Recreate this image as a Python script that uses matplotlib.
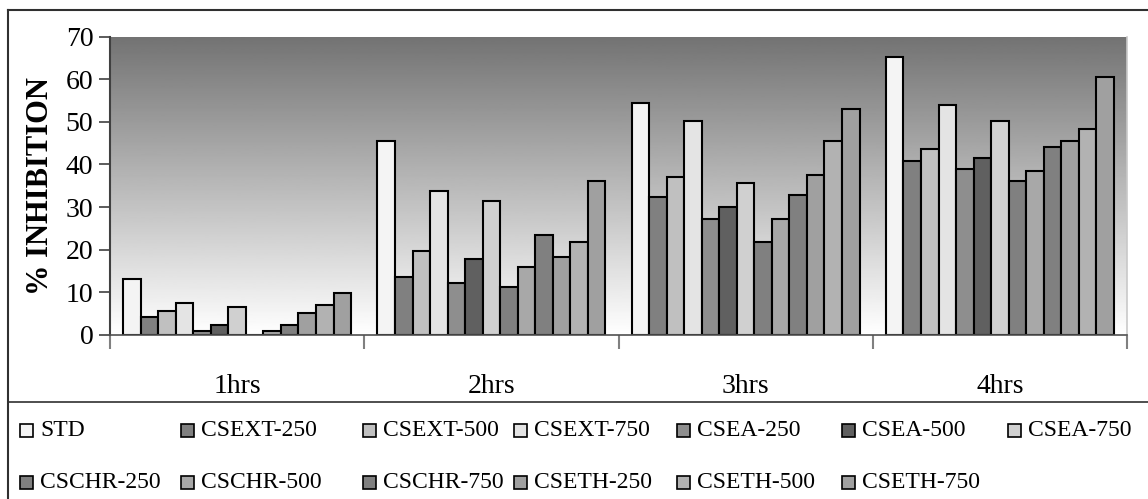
import numpy as np
import matplotlib
matplotlib.use("Agg")
import matplotlib.pyplot as plt
from matplotlib.patches import Rectangle
from matplotlib.lines import Line2D

plt.rcParams['font.family'] = ['Liberation Serif', 'DejaVu Serif']

# data
groups = ['1hrs', '2hrs', '3hrs', '4hrs']
series = ['STD', 'CSEXT-250', 'CSEXT-500', 'CSEXT-750', 'CSEA-250', 'CSEA-500', 'CSEA-750',
          'CSCHR-250', 'CSCHR-500', 'CSCHR-750', 'CSETH-250', 'CSETH-500', 'CSETH-750']
std = [13.1, 45.5, 54.5, 65.1]
csext_250 = [4.3, 13.7, 32.4, 40.9]
csext_500 = [5.6, 19.8, 37.1, 43.6]
csext_750 = [7.5, 33.7, 50.2, 53.9]
csea_250 = [1.0, 12.3, 27.3, 39.0]
csea_500 = [2.4, 17.9, 30.1, 41.4]
csea_750 = [6.6, 31.4, 35.6, 50.2]
cschr_250 = [0.0, 11.3, 21.7, 36.2]
cschr_500 = [1.0, 16.0, 27.3, 38.4]
cschr_750 = [2.4, 23.5, 32.9, 44.1]
cseth_250 = [5.2, 18.4, 37.6, 45.5]
cseth_500 = [7.1, 21.7, 45.5, 48.3]
cseth_750 = [9.8, 36.1, 52.9, 60.4]
values = [std, csext_250, csext_500, csext_750, csea_250, csea_500, csea_750,
          cschr_250, cschr_500, cschr_750, cseth_250, cseth_500, cseth_750]
colors = ['#f4f4f4', '#808080', '#c0c0c0', '#e4e4e4', '#8e8e8e', '#606060', '#d0d0d0',
          '#808080', '#a8a8a8', '#808080', '#a0a0a0', '#b2b2b2', '#a0a0a0']
yticks = [0, 10, 20, 30, 40, 50, 60, 70]

W, H = 1148, 499
fig = plt.figure(figsize=(W / 100, H / 100), dpi=100)
ax = fig.add_axes([110 / W, 1 - 335 / H, (1127 - 110) / W, (335 - 36.5) / H])

# gradient background
grad = np.linspace(0.45, 1.0, 256).reshape(-1, 1)
ax.imshow(grad, cmap='gray', vmin=0, vmax=1, aspect='auto',
          extent=[-0.5, 3.5, 0, 70], origin='upper', zorder=0)

n = len(series)
bw = 0.896 / n
x = np.arange(len(groups))
for i, (vals, c) in enumerate(zip(values, colors)):
    ax.bar(x - 0.448 + bw * (i + 0.5), vals, bw, color=c, edgecolor='black',
           linewidth=1.5, zorder=2)

ax.set_xlim(-0.5, 3.5)
ax.set_ylim(0, 70)
ax.set_yticks(yticks)
ax.set_yticklabels([str(v) for v in yticks], fontsize=20)
ax.tick_params(axis='y', length=8, width=1.2, color='#404040', pad=4)
ax.set_xticks(x)
ax.set_xticklabels(groups, fontsize=20)
ax.tick_params(axis='x', which='major', length=0, pad=28)
ax.set_xticks(np.arange(-0.5, 3.6, 1.0), minor=True)
ax.tick_params(axis='x', which='minor', length=10, width=1.5, color='#808080')
ax.set_ylabel('% INHIBITION', fontsize=22, fontweight='bold', labelpad=8)

ax.spines['top'].set_visible(False)
ax.spines['left'].set_color('#404040')
ax.spines['left'].set_linewidth(1.5)
ax.spines['bottom'].set_color('#505050')
ax.spines['bottom'].set_linewidth(1.2)
ax.spines['right'].set_color('#c8c8c8')
ax.spines['right'].set_linewidth(1.2)

# outer frame and separator
fig.add_artist(Line2D([8 / W, 8 / W], [0, 1 - 10 / H], color='#303030', lw=1.5))
fig.add_artist(Line2D([8 / W, 1], [1 - 10 / H, 1 - 10 / H], color='#303030', lw=1.5))
fig.add_artist(Line2D([8 / W, 1], [1 - 402 / H, 1 - 402 / H], color='#303030', lw=1.2))

# legend, laid out like the original
col_x = [20, 181, 363, 514, 677, 842, 1008]
row_y = [430, 482]
for i, (name, c) in enumerate(zip(series, colors)):
    r, k = divmod(i, 7)
    px, py = col_x[k], row_y[r]
    fig.add_artist(Rectangle((px / W, (H - py - 6.5) / H), 13 / W, 13 / H,
                             facecolor=c, edgecolor='black', lw=1.2,
                             transform=fig.transFigure))
    fig.text((px + 20) / W, (H - py) / H, name, fontsize=17, va='center', ha='left')

fig.savefig('out.png', dpi=100)
